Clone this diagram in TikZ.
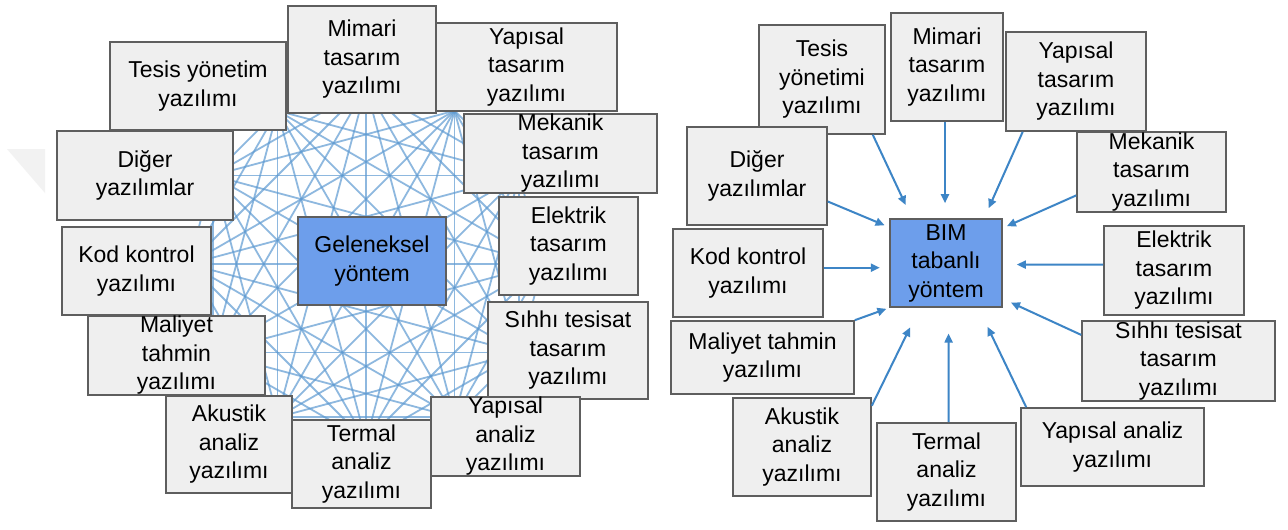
\documentclass[tikz,border=0pt]{standalone}
\usepackage{fontspec}
\setmainfont{Liberation Sans}
\usetikzlibrary{arrows.meta,calc}
\definecolor{boxfill}{HTML}{EFEFEF}
\definecolor{boxline}{HTML}{5E5E5E}
\definecolor{methodfill}{HTML}{6D9EEB}
\definecolor{meshblue}{HTML}{5F9BD2}
\definecolor{arrowblue}{HTML}{3D85C6}

\begin{document}
\begin{tikzpicture}[x=1pt,y=-1pt,
  softbox/.style={draw=boxline,line width=1.6pt,fill=boxfill,inner sep=0pt,
    align=center,font=\fontsize{23}{28.5}\selectfont},
  methodbox/.style={softbox,fill=methodfill},
  flow/.style={draw=arrowblue,line width=2pt,-{Triangle[length=9pt,width=8pt]}},
  mesh/.style={draw=meshblue,line width=1.8pt,opacity=.7}]

% page frame
\useasboundingbox (0,0) rectangle (1288,530);
\fill[white] (0,0) rectangle (1288,530);

% faint mark at the left margin
\fill[black!5] (7,149) -- (45,149) -- (45,193) -- cycle;

% ---------- traditional method: every tool linked to every other ----------
\foreach \i in {0,...,11}{
  \coordinate (m\i) at ($(366,264)+(90+30*\i:177)$);
}
\foreach \i in {0,...,10}{
  \pgfmathtruncatemacro\nxt{\i+1}
  \foreach \j in {\nxt,...,11}{
    \draw[mesh] (m\i) -- (m\j);
  }
}

\node[softbox,minimum width=176pt,minimum height=88pt]  (ltesis)   at (198,86)      {Tesis yönetim\\yazılımı};
\node[softbox,minimum width=148pt,minimum height=107pt] (lmimari)  at (362,59.5)    {Mimari\\tasarım\\yazılımı};
\node[softbox,minimum width=181pt,minimum height=88pt]  (lyapt)    at (526.5,67)    {Yapısal\\tasarım\\yazılımı};
\node[softbox,minimum width=193pt,minimum height=79pt]  (lmek)     at (560.5,153.5) {Mekanik\\tasarım\\yazılımı};
\node[softbox,minimum width=176pt,minimum height=89pt]  (ldiger)   at (145,175.5)   {Diğer\\yazılımlar};
\node[softbox,minimum width=139pt,minimum height=98pt]  (lelek)    at (568.5,246)   {Elektrik\\tasarım\\yazılımı};
\node[softbox,minimum width=149pt,minimum height=88pt]  (lkod)     at (136.5,271)   {Kod kontrol\\yazılımı};
\node[softbox,minimum width=160pt,minimum height=97pt]  (lsihhi)   at (568,350.5)   {Sıhhı tesisat\\tasarım\\yazılımı};
\node[softbox,minimum width=177pt,minimum height=79pt]  (lmaliyet) at (176.5,355.5) {Maliyet\\tahmin\\yazılımı};
\node[softbox,minimum width=126pt,minimum height=97pt]  (lakustik) at (229,444.5)   {Akustik\\analiz\\yazılımı};
\node[softbox,minimum width=149pt,minimum height=79pt]  (lyapa)    at (505.5,436.5) {Yapısal\\analiz\\yazılımı};
\node[softbox,minimum width=139pt,minimum height=88pt]  (ltermal)  at (361.5,464)   {Termal\\analiz\\yazılımı};
\node[methodbox,minimum width=148pt,minimum height=88pt] (lmethod) at (372,261)     {Geleneksel\\yöntem};

% ---------- BIM based method: every tool linked to one model ----------
\node[softbox,minimum width=126pt,minimum height=109pt] (rtesis)   at (822,79.5)    {Tesis\\yönetimi\\yazılımı};
\node[softbox,minimum width=112pt,minimum height=108pt] (rmimari)  at (947,67)      {Mimari\\tasarım\\yazılımı};
\node[softbox,minimum width=140pt,minimum height=99pt]  (ryapt)    at (1076,81.5)   {Yapısal\\tasarım\\yazılımı};
\node[softbox,minimum width=149pt,minimum height=80pt]  (rmek)     at (1151.5,172)  {Mekanik\\tasarım\\yazılımı};
\node[softbox,minimum width=140pt,minimum height=98pt]  (rdiger)   at (757,176)     {Diğer\\yazılımlar};
\node[softbox,minimum width=150pt,minimum height=88pt]  (rkod)     at (748,273)     {Kod kontrol\\yazılımı};
\node[softbox,minimum width=140pt,minimum height=89pt]  (relek)    at (1174,270.5)  {Elektrik\\tasarım\\yazılımı};
\node[softbox,minimum width=183pt,minimum height=73pt]  (rmaliyet) at (762.5,357.5) {Maliyet tahmin\\yazılımı};
\node[softbox,minimum width=193pt,minimum height=80pt]  (rsihhi)   at (1178.5,361)  {Sıhhı tesisat\\tasarım\\yazılımı};
\node[softbox,minimum width=138pt,minimum height=98pt]  (rakustik) at (802,447)     {Akustik\\analiz\\yazılımı};
\node[softbox,minimum width=139pt,minimum height=98pt]  (rtermal)  at (946.5,472)   {Termal\\analiz\\yazılımı};
\node[softbox,minimum width=183pt,minimum height=78pt]  (ryapa)    at (1112.5,447)  {Yapısal analiz\\yazılımı};
\node[methodbox,minimum width=112pt,minimum height=88pt] (rmethod) at (946,263)     {BIM\\tabanlı\\yöntem};

\draw[flow,shorten >=14.6pt] ($(rtesis.south east)+(-13,0)$)   -- ($(rmethod.north west)+(22.7,0)$);
\draw[flow,shorten >=15pt]   ($(rmimari.south)+(-2,0)$)        -- ($(rmethod.north)+(-1,0)$);
\draw[flow,shorten >=11pt]   ($(ryapt.south west)+(17.5,0)$)   -- ($(rmethod.north east)+(-18.6,0)$);
\draw[flow,shorten >=4.5pt]  ($(rmek.south west)+(0,-17.4)$)   -- ($(rmethod.north east)+(0,9.8)$);
\draw[flow,shorten >=5pt]    ($(rdiger.south east)+(0,-24.3)$) -- ($(rmethod.north west)+(0,9)$);
\draw[flow,shorten >=9.4pt]  ($(rkod.east)+(0,-5.3)$)          -- ($(rmethod.west)+(0,4.7)$);
\draw[flow,shorten >=14pt]   ($(relek.west)+(0,-6)$)           -- ($(rmethod.east)+(0,1.6)$);
\draw[flow,shorten >=3pt]    (rmaliyet.north east)             -- (rmethod.south west);
\draw[flow,shorten >=9pt]    ($(rsihhi.north west)+(0,14.7)$)  -- ($(rmethod.south east)+(0,-9)$);
\draw[flow,shorten >=21.8pt] ($(rakustik.north east)+(0,8.5)$) -- ($(rmethod.south west)+(30.5,0)$);
\draw[flow,shorten >=25.7pt] ($(rtermal.north)+(2,0)$)         -- ($(rmethod.south)+(2.6,0)$);
\draw[flow,shorten >=21.1pt] ($(ryapa.north west)+(6,0)$)      -- ($(rmethod.south east)+(-24.4,0)$);

\end{tikzpicture}
\end{document}
